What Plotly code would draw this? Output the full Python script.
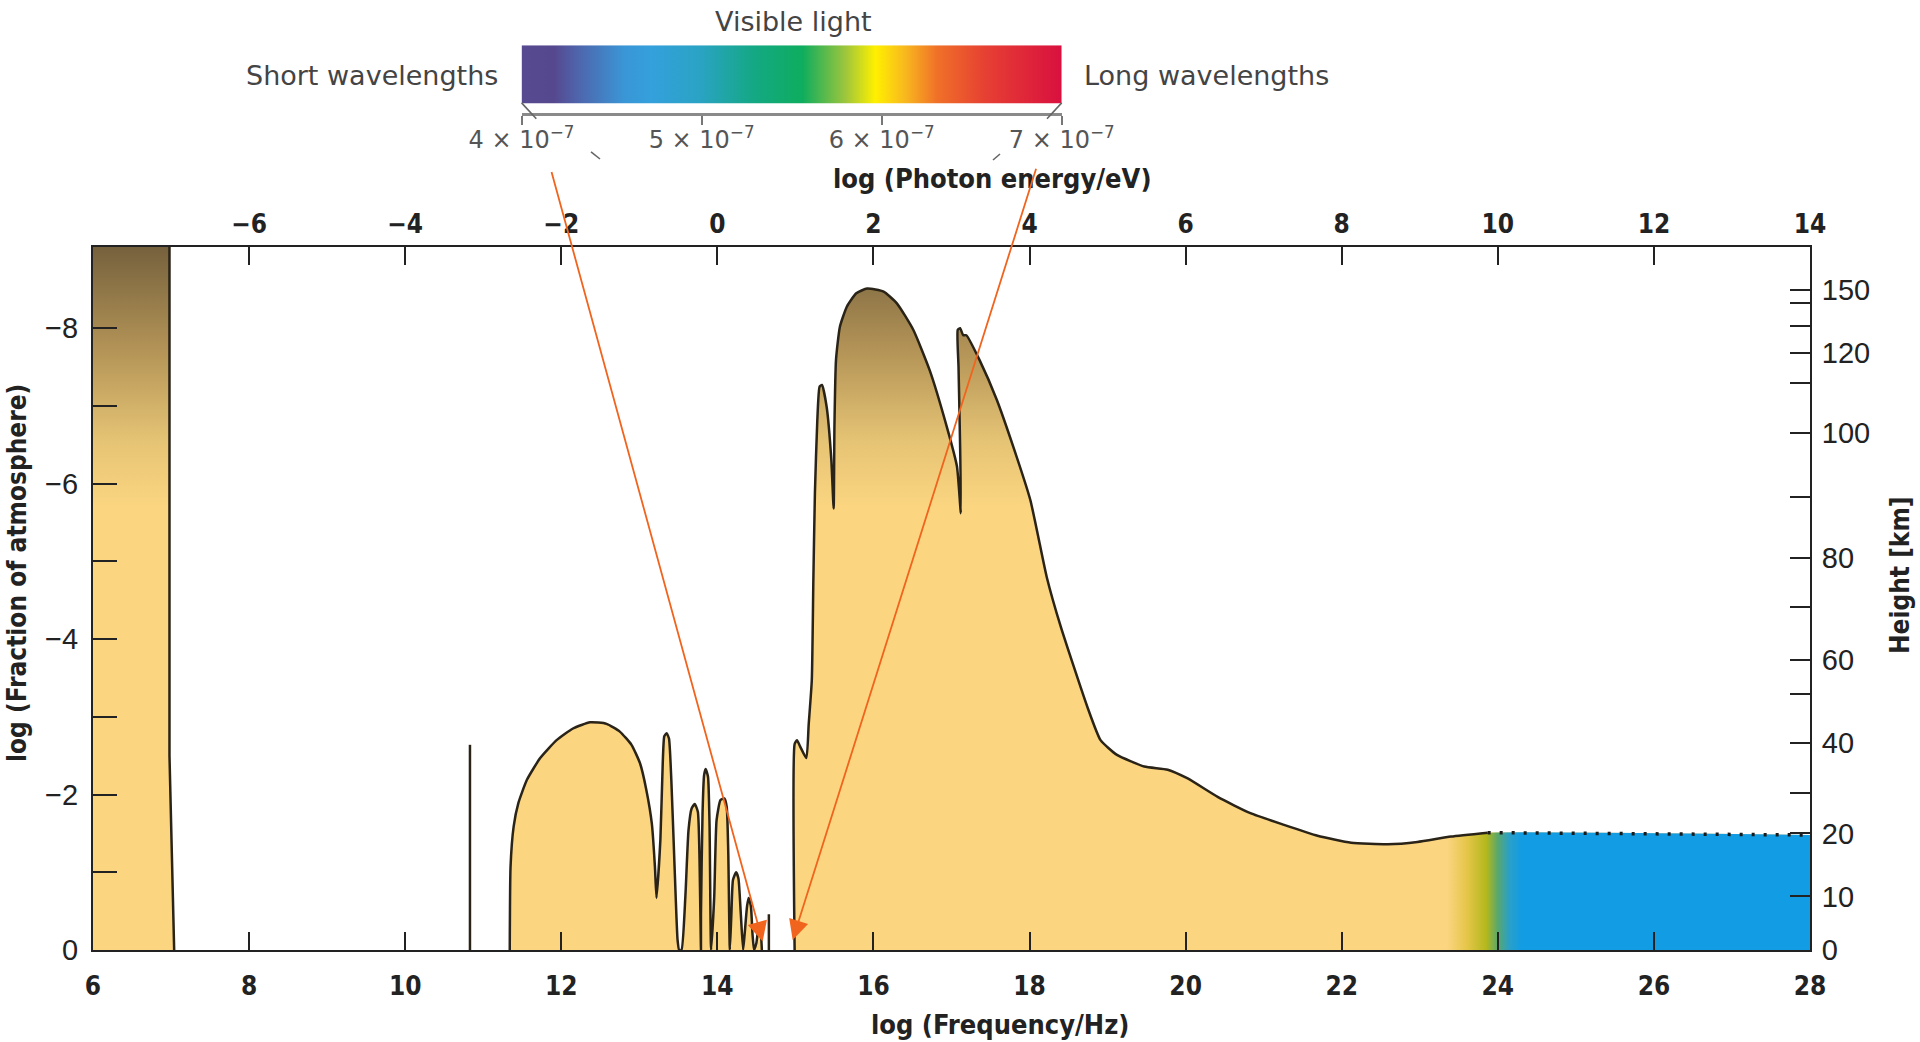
import numpy as np
import plotly.graph_objects as go

# ---------------- data ----------------
freq_ticks = list(range(6, 29, 2))            # log(Frequency/Hz)
energy_ticks = list(range(-6, 15, 2))         # log(Photon energy/eV)
lf_ticks = [0, -1, -2, -3, -4, -5, -6, -7, -8]
lf_labels = ['0', '', '\u22122', '', '\u22124', '', '\u22126', '', '\u22128']

height_km = [0, 10, 20, 30, 40, 50, 60, 70, 80, 90, 100, 110, 120, 130, 140, 150]
height_lf = [0.0, -0.69, -1.50, -2.02, -2.66, -3.29, -3.73, -4.41, -5.04, -5.83,
             -6.65, -7.30, -7.68, -8.03, -8.33, -8.49]
height_labelled = [0, 10, 20, 40, 60, 80, 100, 120, 150]

# radio cut-off (ionosphere)
radio_freq = [6.0, 6.98, 6.98, 7.04]
radio_lf = [-9.5, -9.5, -2.5, 0.0]

# microwave / infrared absorption bands
ir_freq = [11.34, 11.35, 11.39, 11.45, 11.56, 11.73, 11.94, 12.15, 12.37, 12.58, 12.75, 12.90,
           13.01, 13.09, 13.16, 13.20, 13.22, 13.27, 13.30, 13.32, 13.35, 13.38, 13.41, 13.45,
           13.49, 13.51,
           13.54, 13.59, 13.63, 13.67, 13.71, 13.75, 13.77, 13.79,
           13.79, 13.81, 13.83, 13.85, 13.88, 13.90, 13.92,
           13.96, 13.99, 14.04, 14.09, 14.12, 14.14, 14.16,
           14.18, 14.20, 14.24, 14.27, 14.30, 14.33,
           14.35, 14.38, 14.40, 14.43, 14.45, 14.47,
           14.50, 14.53, 14.55, 14.57]
ir_lf = [0.0, -1.07, -1.59, -1.89, -2.19, -2.47, -2.70, -2.85, -2.93, -2.91, -2.81, -2.64,
         -2.40, -2.06, -1.63, -1.07, -0.67, -1.42, -2.40, -2.75, -2.79, -2.72, -2.19, -1.12,
         -0.13, 0.0,
         0.0, -0.69, -1.54, -1.82, -1.88, -1.78, -1.24, 0.0,
         -0.47, -1.76, -2.25, -2.33, -2.23, -1.60, 0.0,
         -0.69, -1.67, -1.93, -1.95, -1.84, -1.24, 0.0,
         -0.47, -0.90, -1.00, -0.92, -0.47, 0.0,
         -0.21, -0.56, -0.67, -0.56, -0.21, 0.0,
         -0.09, -0.30, -0.28, 0.0]

# ultraviolet, X-ray and gamma-ray absorption
uv_freq = [14.99, 14.99, 15.02, 15.06, 15.14, 15.17, 15.21, 15.23, 15.25, 15.28,
           15.31, 15.34, 15.40, 15.46, 15.49, 15.50, 15.52, 15.57, 15.66, 15.78,
           15.92, 16.13, 16.30, 16.51, 16.72, 16.94, 17.07, 17.12, 17.11, 17.09,
           17.08, 17.11, 17.15, 17.19, 17.36, 17.58, 17.79, 18.01, 18.22, 18.40,
           18.74, 18.91, 19.12, 19.47, 19.77, 20.02, 20.41, 20.83, 21.26, 21.69,
           22.12, 22.59, 22.97, 23.40, 23.87, 28.00]
uv_lf = [0.0, -2.65, -2.70, -2.62, -2.47, -2.90, -3.47, -4.76, -5.88, -6.80,
         -7.25, -7.27, -6.99, -6.31, -5.68, -6.73, -7.59, -8.02, -8.28, -8.45,
         -8.51, -8.47, -8.32, -7.98, -7.46, -6.73, -6.22, -5.62, -6.50, -7.50,
         -7.98, -8.00, -7.91, -7.91, -7.59, -7.08, -6.48, -5.79, -4.80, -4.16,
         -3.13, -2.70, -2.51, -2.36, -2.32, -2.21, -1.97, -1.76, -1.61, -1.47,
         -1.38, -1.36, -1.39, -1.46, -1.51, -1.48]
solid_end = 23.87      # beyond this the boundary is dotted

# isolated absorption lines
line_freq = [10.83, 14.66]
line_lf = [-2.64, -0.46]

# visible-light inset (wavelength / 1e-7 m)
visible_wl = [4, 5, 6, 7]
spectrum_stops = [0.0, 0.06, 0.10, 0.19, 0.24, 0.33, 0.43, 0.52, 0.60, 0.655, 0.71, 0.77, 0.86, 1.0]
spectrum_cols = ['#574a90', '#56488f', '#4f62aa', '#3a96d6', '#34a0dc', '#2aa3c4', '#14a884',
                 '#0ead5e', '#9ec63c', '#fff000', '#f8b81e', '#f07028', '#e63f33', '#d9103f']

# arrows from the visible band down to the frequency axis
arrow_head_freq = [14.58, 14.965]
arrow_head_lf = [-0.11, -0.13]
arrow_tail_freq = [11.87, 18.09]
arrow_tail_lf = [-10.03, -10.07]

# ---------------- styling ----------------
YELLOW = '#FBD580'
OUT = '#2a2318'
BLUE = '#129CE4'
NARROW = 'DejaVu Sans Condensed, DejaVu Sans, sans-serif'
SANS = 'Liberation Sans, Arial, sans-serif'
LABEL = 'DejaVu Sans, sans-serif'
YTOP = -9.045

vgrad = dict(type='vertical', start=YTOP, stop=-5.7,
             colorscale=[[0, '#75613d'], [0.4, '#b49457'], [0.75, '#e6c475'], [1, YELLOW]])
hgrad = dict(type='horizontal', start=23.35, stop=24.3,
             colorscale=[[0, YELLOW], [0.26, '#e6c64a'], [0.53, '#b3b81d'],
                         [0.68, '#5aa86a'], [0.84, '#2aa0c8'], [1, BLUE]])

fig = go.Figure()

fig.add_trace(go.Scatter(x=radio_freq, y=radio_lf, mode='lines', fill='tozeroy',
                         fillgradient=vgrad, line=dict(color=OUT, width=2.5),
                         hoverinfo='skip', showlegend=False))
fig.add_trace(go.Scatter(x=ir_freq, y=ir_lf, mode='lines', fill='tozeroy',
                         fillgradient=vgrad, line=dict(color=OUT, width=2.5, shape='spline', smoothing=0.5),
                         hoverinfo='skip', showlegend=False))
fig.add_trace(go.Scatter(x=uv_freq, y=uv_lf, mode='lines', fill='tozeroy',
                         fillgradient=vgrad, line=dict(width=0, shape='spline', smoothing=0.5),
                         hoverinfo='skip', showlegend=False))

uf = np.array(uv_freq)
ul = np.array(uv_lf)
tail = uf >= 22.9
fig.add_trace(go.Scatter(x=uf[tail], y=ul[tail], mode='lines', fill='tozeroy',
                         fillgradient=hgrad, line=dict(width=0, shape='spline', smoothing=0.5),
                         hoverinfo='skip', showlegend=False))
solid = uf <= solid_end
fig.add_trace(go.Scatter(x=uf[solid], y=ul[solid], mode='lines',
                         line=dict(color=OUT, width=2.5, shape='spline', smoothing=0.5),
                         hoverinfo='skip', showlegend=False))
dotted = uf >= solid_end
fig.add_trace(go.Scatter(x=uf[dotted], y=ul[dotted], mode='lines',
                         line=dict(color='#1a1a1a', width=3.5, dash='3px,9px'),
                         hoverinfo='skip', showlegend=False))

lx, ly = [], []
for f, v in zip(line_freq, line_lf):
    lx += [f, f, None]
    ly += [0, v, None]
fig.add_trace(go.Scatter(x=lx, y=ly, mode='lines', line=dict(color=OUT, width=2.5),
                         hoverinfo='skip', showlegend=False))

# empty trace to activate the secondary (top / right) axes
fig.add_trace(go.Scatter(x=[], y=[], xaxis='x2', yaxis='y2', showlegend=False,
                         hoverinfo='skip'))

# visible light spectrum bar
wl0, wl1 = visible_wl[0], visible_wl[-1]
fig.add_trace(go.Scatter(x=[wl0, wl1, wl1, wl0, wl0], y=[0.14, 0.14, 1, 1, 0.14],
                         xaxis='x3', yaxis='y3', mode='lines', fill='toself',
                         fillgradient=dict(type='horizontal',
                                           colorscale=[[s, c] for s, c in zip(spectrum_stops, spectrum_cols)]),
                         line=dict(width=0), hoverinfo='skip', showlegend=False))

tick_common = dict(showgrid=False, zeroline=False, showline=True, linecolor='#222',
                   linewidth=2, ticks='inside', tickcolor='#222', tickwidth=2)

fig.update_layout(
    width=1920, height=1042,
    margin=dict(l=93, r=110, t=0, b=92),
    paper_bgcolor='white', plot_bgcolor='white',
    showlegend=False,
    xaxis=dict(domain=[0, 1], range=[6, 28], tickvals=freq_ticks, ticklen=18,
               tickfont=dict(family=NARROW, size=26, color='#222', weight='bold'),
               ticklabelstandoff=12, anchor='y', **tick_common),
    xaxis2=dict(overlaying='x', side='top', anchor='y', range=[-8, 14], tickvals=energy_ticks,
                ticklen=18, tickfont=dict(family=NARROW, size=26, color='#222', weight='bold'),
                ticklabelstandoff=2, **tick_common),
    yaxis=dict(domain=[0, 703 / 950], range=[0, YTOP], tickvals=lf_ticks, ticktext=lf_labels,
               ticklen=24, tickfont=dict(family=SANS, size=29, color='#222'),
               ticklabelstandoff=7, anchor='x', **tick_common),
    yaxis2=dict(overlaying='y', side='right', anchor='x', range=[0, YTOP], tickvals=height_lf,
                ticktext=[str(h) if h in height_labelled else '' for h in height_km],
                ticklen=20, tickfont=dict(family=SANS, size=29, color='#222'),
                ticklabelstandoff=4, **tick_common),
    xaxis3=dict(domain=[0.2496, 0.5642], anchor='y3', range=[wl0, wl1], tickvals=visible_wl,
                ticktext=[f'{w} \u00d7 10<sup>\u22127</sup>' for w in visible_wl],
                showgrid=False, zeroline=False, showline=True, linecolor='#8a8a8a', linewidth=3,
                ticks='outside', ticklen=9, tickwidth=2, tickcolor='#777',
                ticklabelstandoff=-5,
                tickfont=dict(family=LABEL, size=24, color='#555')),
    yaxis3=dict(domain=[0.8815, 0.9523], anchor='x3', range=[0, 1], visible=False),
)

def px(x):
    return (x - 93) / 1717

def py(y):
    return (950 - y) / 950

texts = [
    dict(text='log (Frequency/Hz)', x=px(1000), y=py(1024), angle=0),
    dict(text='log (Photon energy/eV)', x=px(992), y=py(178), angle=0),
    dict(text='log (Fraction of atmosphere)', x=px(17), y=py(573), angle=-90),
    dict(text='Height [km]', x=px(1900), y=py(575), angle=-90),
]
for t in texts:
    fig.add_annotation(text=t['text'], x=t['x'], y=t['y'], xref='paper', yref='paper',
                       showarrow=False, textangle=t['angle'], xanchor='center', yanchor='middle',
                       font=dict(family=NARROW, size=26 if t['angle'] else 27, color='#222', weight='bold'))

fig.add_annotation(text='Visible light', x=px(793.5), y=py(21), xref='paper', yref='paper',
                   showarrow=False, xanchor='center', yanchor='middle',
                   font=dict(family=LABEL, size=27, color='#444'))
fig.add_annotation(text='Short wavelengths', x=px(500), y=py(75), xref='paper', yref='paper',
                   showarrow=False, xanchor='right', yanchor='middle',
                   font=dict(family=LABEL, size=27, color='#444'))
fig.add_annotation(text='Long wavelengths', x=px(1082), y=py(75), xref='paper', yref='paper',
                   showarrow=False, xanchor='left', yanchor='middle',
                   font=dict(family=LABEL, size=27, color='#444'))

# funnel marks under the visible-light bar
for (x0, y0, x1, y1) in [(521.6, 102.9, 536.3, 118.8), (591, 151.8, 600, 159),
                         (1061.7, 102.9, 1047, 118.8), (1000, 154, 993, 160)]:
    fig.add_shape(type='line', xref='paper', yref='paper', x0=px(x0), y0=py(y0), x1=px(x1), y1=py(y1),
                  line=dict(color='#666', width=1.6))

for hx, hy, tx, ty in zip(arrow_head_freq, arrow_head_lf, arrow_tail_freq, arrow_tail_lf):
    fig.add_annotation(x=hx, y=hy, ax=tx, ay=ty, xref='x', yref='y', axref='x', ayref='y',
                       text='', showarrow=True, arrowhead=2, arrowsize=2.2, arrowwidth=1.8,
                       arrowcolor='#F0641E', standoff=0)

fig.write_html('out.html', config={'displayModeBar': False},
               post_script="document.body.style.margin='0';document.body.style.overflow='hidden';")
